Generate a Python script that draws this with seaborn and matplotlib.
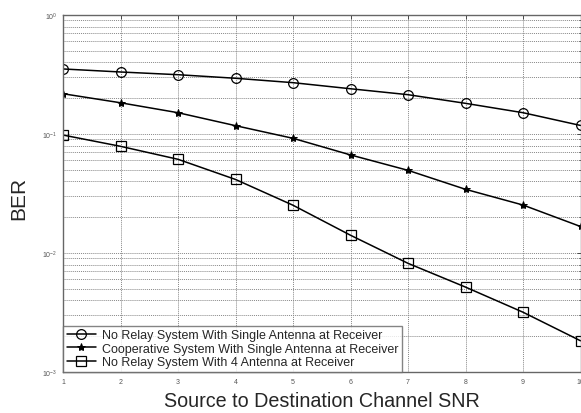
import numpy as np
import pandas as pd
import matplotlib
matplotlib.use("Agg")
import matplotlib.pyplot as plt
import seaborn as sns
from matplotlib.ticker import LogLocator, NullFormatter, FixedLocator

snr = [1, 2, 3, 4, 5, 6, 7, 8, 9, 10]
ber_no_relay_single = [0.352, 0.332, 0.315, 0.294, 0.270, 0.240, 0.214, 0.181, 0.151, 0.118]
ber_cooperative_single = [0.218, 0.183, 0.151, 0.1175, 0.092, 0.0667, 0.0495, 0.0343, 0.0253, 0.0167]
ber_no_relay_four = [0.098, 0.0788, 0.0613, 0.0415, 0.0252, 0.0141, 0.00819, 0.00517, 0.00318, 0.00183]
series_names = [
    "No Relay System With Single Antenna at Receiver",
    "Cooperative System With Single Antenna at Receiver",
    "No Relay System With 4 Antenna at Receiver",
]
xlabel = "Source to Destination Channel SNR"
ylabel = "BER"

sns.set_style("white")
plt.rcParams['font.family'] = ['Liberation Sans', 'DejaVu Sans']

fig = plt.figure(figsize=(5.81, 4.14), dpi=100)
ax = fig.add_axes([63/581, 41/414, (580.5-63)/581, (373-16)/414])

styles = [
    dict(marker='o', markerfacecolor='none', markersize=7, markeredgewidth=0.9),
    dict(marker='*', markerfacecolor='black', markersize=6, markeredgewidth=0.7),
    dict(marker='s', markerfacecolor='none', markersize=6.5, markeredgewidth=0.9),
]
for name, vals, st in zip(series_names,
                          [ber_no_relay_single, ber_cooperative_single, ber_no_relay_four],
                          styles):
    df = pd.DataFrame({"SNR": snr, "BER": vals})
    sns.lineplot(data=df, x="SNR", y="BER", ax=ax, color='black', linewidth=1.1,
                 markeredgecolor='black', label=name, **st)

ax.set_yscale('log')
ax.set_xlim(1, 10)
ax.set_ylim(1e-3, 1)
ax.xaxis.set_major_locator(FixedLocator(snr))
ax.yaxis.set_major_locator(LogLocator(base=10, numticks=10))
ax.yaxis.set_minor_locator(LogLocator(base=10, subs=np.arange(2, 10), numticks=100))
ax.yaxis.set_minor_formatter(NullFormatter())

ax.grid(True, which='major', axis='both', color='#888888', linestyle=(0, (1.0, 1.0)), linewidth=0.7)
ax.grid(True, which='minor', axis='y', color='#888888', linestyle=(0, (1.0, 1.0)), linewidth=0.7)

ax.tick_params(axis='both', which='both', direction='in', top=True, right=True,
               labelsize=5, colors='#333333', labelcolor='#555555')
ax.tick_params(axis='both', which='major', length=3, width=0.6, pad=4)
ax.tick_params(axis='y', which='minor', length=1.8, width=0.5)
for sp in ax.spines.values():
    sp.set_color('#666666')
    sp.set_linewidth(1.0)

ax.set_xlabel(xlabel, fontsize=14.2, labelpad=5)
ax.set_ylabel(ylabel, fontsize=15)
ax.yaxis.set_label_coords(-0.068, 0.49)

leg = ax.legend(loc='lower left', fontsize=9, frameon=True, fancybox=False,
                borderaxespad=0.0, handlelength=2.3, handletextpad=0.5,
                labelspacing=0.12, borderpad=0.3)
leg.get_frame().set_edgecolor('#666666')
leg.get_frame().set_linewidth(1.0)

fig.savefig("out.png", dpi=100)
